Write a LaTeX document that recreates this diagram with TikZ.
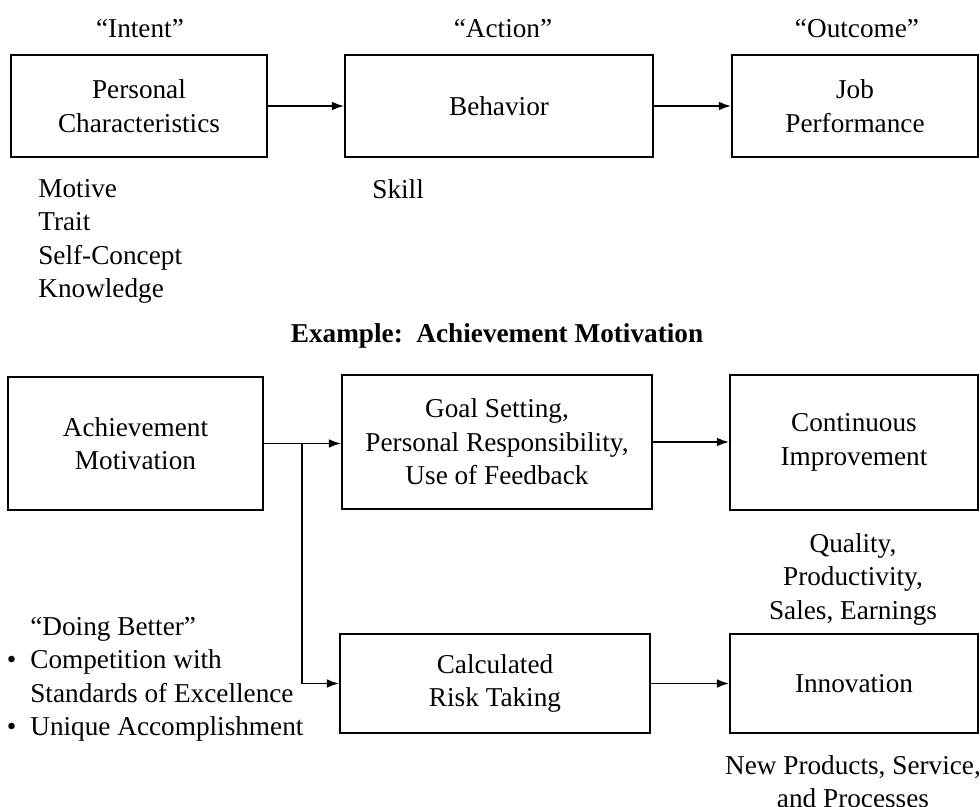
\documentclass[tikz,border=0pt]{standalone}
\usepackage{fontspec}
\setmainfont{Liberation Serif}
\usetikzlibrary{arrows.meta}
\tikzset{
    box/.style={draw,line width=1pt,align=center,inner sep=0pt},
    flow/.style={line width=1pt,-{Latex[length=7pt,width=5pt]}},
    txt/.style={inner sep=0pt}
}
\begin{document}
\begin{tikzpicture}[font=\fontsize{15.5}{19}\selectfont]
    \useasboundingbox (0,0) rectangle (19.6,-16.14);
    \node[txt] (intent) at (2.8,-0.58) {``Intent''};
    \node[txt] (action) at (10.06,-0.58) {``Action''};
    \node[txt] (outcome) at (17.14,-0.58) {``Outcome''};
    \node[box,minimum width=5.12cm,minimum height=2.04cm] (pc) at (2.78,-2.12) {Personal\\Characteristics};
    \node[box,minimum width=6.16cm,minimum height=2.04cm] (beh) at (9.98,-2.12) {Behavior};
    \node[box,minimum width=4.92cm,minimum height=2.04cm] (jp) at (17.1,-2.12) {Job\\Performance};
    \draw[flow] (pc.east) -- (beh.west);
    \draw[flow] (beh.east) -- (jp.west);
    \node[txt,align=left,anchor=north west] (traits) at (0.76,-3.58) {Motive\\Trait\\Self-Concept\\Knowledge};
    \node[txt,anchor=north west] (skill) at (7.44,-3.58) {Skill};
    \node[txt,font=\fontsize{15.5}{19}\selectfont\bfseries] (example) at (9.94,-6.72) {Example:\ \ Achievement Motivation};
    \node[box,minimum width=5.1cm,minimum height=2.66cm] (am) at (2.71,-8.87) {Achievement\\Motivation};
    \node[box,minimum width=6.2cm,minimum height=2.68cm] (gs) at (9.94,-8.84) {Goal Setting,\\Personal Responsibility,\\Use of Feedback};
    \node[box,minimum width=4.96cm,minimum height=2.7cm] (ci) at (17.08,-8.85) {Continuous\\Improvement};
    \node[box,minimum width=6.2cm,minimum height=1.98cm] (crt) at (9.9,-13.67) {Calculated\\Risk Taking};
    \node[box,minimum width=4.96cm,minimum height=1.98cm] (inno) at (17.08,-13.67) {Innovation};
    \coordinate (split) at (6.04,-8.87);
    \draw[flow] (am.east) -- (am.east -| gs.west);
    \draw[flow] (split) |- (crt.west);
    \draw[flow] (gs.east) -- (gs.east -| ci.west);
    \draw[flow] (crt.east) -- (inno.west);
    \node[txt,align=center,anchor=north] (quality) at (17.06,-10.66) {Quality,\\Productivity,\\Sales, Earnings};
    \node[txt,align=center,anchor=north] (products) at (17.06,-15.1) {New Products, Service,\\and Processes};
    \node[txt,align=left,anchor=north west] (better) at (0.6,-12.34) {``Doing Better''\\\llap{\textbullet\hspace{8pt}}Competition with\\Standards of Excellence\\\llap{\textbullet\hspace{8pt}}Unique Accomplishment};
\end{tikzpicture}
\end{document}
